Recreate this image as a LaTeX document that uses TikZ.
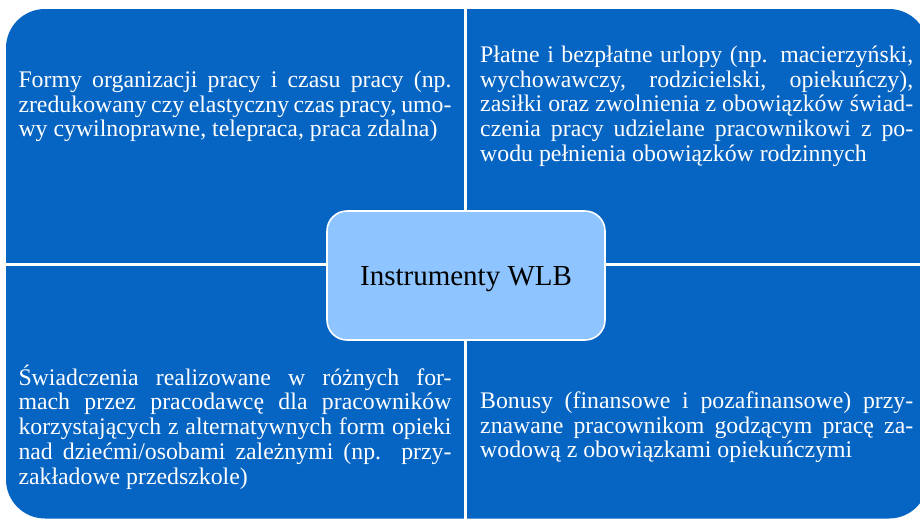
\documentclass[tikz,border=0pt]{standalone}
\usepackage{fontspec}
\setmainfont{Liberation Serif}
\definecolor{quadblue}{RGB}{6,100,194}
\definecolor{hubblue}{RGB}{142,196,255}
\newlength{\qw}\setlength{\qw}{433pt}
\newcommand{\jline}[1]{\hbox to \qw{#1}}
\newcommand{\lline}[1]{\hbox{#1}}
\newcommand{\qtext}[1]{\vtop{\baselineskip=24.8pt\lineskiplimit=-100pt\lineskip=0pt #1}}
\hbadness=10000
\begin{document}
\begin{tikzpicture}[x=1pt,y=-1pt,
  quadtext/.style={text=white, font=\fontsize{23.8}{24.8}\selectfont, inner sep=0pt, anchor=base west},
  hub/.style={draw=white, line width=1.6pt, fill=hubblue, rounded corners=20pt,
    minimum width=278pt, minimum height=129pt, text=black, text depth=0pt,
    font=\fontsize{29}{30}\selectfont, inner sep=0pt},
  divider/.style={draw=white, line width=3pt}]
\useasboundingbox (0,0) rectangle (920,520);
\clip (0,0) rectangle (920,520);
\fill[quadblue, rounded corners=39pt] (6,9) rectangle (928,518.5);
\coordinate (vtop) at (465,0);
\coordinate (vbot) at (465,530);
\coordinate (hleft) at (0,264.5);
\coordinate (hright) at (930,264.5);
\draw[divider] (vtop) -- (vbot);
\draw[divider] (hleft) -- (hright);
\node[quadtext] (tl) at (18.3,87.3) {\qtext{%
  \jline{Formy organizacji pracy i czasu pracy (np.}
  \jline{zredukowany czy elastyczny czas pracy, umo-}
  \lline{wy cywilnoprawne, telepraca, praca zdalna)}}};
\node[quadtext] (tr) at (480,62.3) {\qtext{%
  \jline{Płatne i bezpłatne urlopy (np. macierzyński,}
  \jline{wychowawczy, rodzicielski, opiekuńczy),}
  \jline{zasiłki oraz zwolnienia z obowiązków świad-}
  \jline{czenia pracy udzielane pracownikowi z po-}
  \lline{wodu pełnienia obowiązków rodzinnych}}};
\node[quadtext] (bl) at (18.3,385) {\qtext{%
  \jline{Świadczenia realizowane w różnych for-}
  \jline{mach przez pracodawcę dla pracowników}
  \jline{korzystających z alternatywnych form opieki}
  \jline{nad dziećmi/osobami zależnymi (np. przy-}
  \lline{zakładowe przedszkole)}}};
\node[quadtext] (br) at (480,408.3) {\qtext{%
  \jline{Bonusy (finansowe i pozafinansowe) przy-}
  \jline{znawane pracownikom godzącym pracę za-}
  \lline{wodową z obowiązkami opiekuńczymi}}};
\node[hub] (hubnode) at (466,275.5) {Instrumenty WLB};
\end{tikzpicture}
\end{document}
